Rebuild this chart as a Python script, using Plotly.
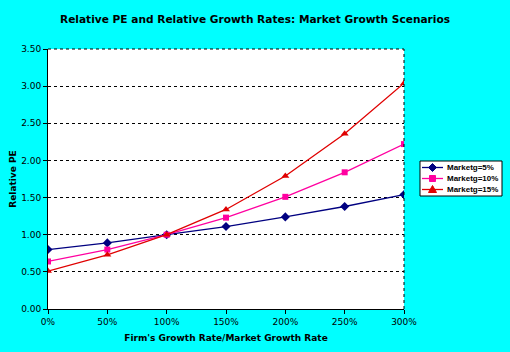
import plotly.graph_objects as go

growth_ratio = [0, 50, 100, 150, 200, 250, 300]
x_labels = ["0%", "50%", "100%", "150%", "200%", "250%", "300%"]
pe_5 = [0.80, 0.89, 1.00, 1.11, 1.24, 1.38, 1.54]
pe_10 = [0.64, 0.80, 1.00, 1.23, 1.51, 1.84, 2.22]
pe_15 = [0.51, 0.73, 1.00, 1.34, 1.79, 2.36, 3.04]
names = ["Marketg=5%", "Marketg=10%", "Marketg=15%"]
y_ticks = [0, 0.5, 1.0, 1.5, 2.0, 2.5, 3.0, 3.5]

font = "DejaVu Sans, Arial, sans-serif"
lfont = "Liberation Sans, Arial, sans-serif"
W, H = 510, 352
ML, MR, MT, MB = 48, 106, 49, 43
PW, PH = W - ML - MR, H - MT - MB


def px_x(x):
    return (x - ML) / PW


def px_y(y):
    return (H - MB - y) / PH


fig = go.Figure()
styles = [("#000080", "diamond", 7), ("#FF00A0", "square", 6), ("#E00000", "triangle-up", 7)]
marker_paths = {
    "diamond": "M0,4 L4,0 L0,-4 L-4,0 Z",
    "square": "M-3,-3 L3,-3 L3,3 L-3,3 Z",
    "triangle-up": "M-4,-3 L4,-3 L0,4 Z",
}
for ys, nm, (c, sym, sz) in zip([pe_5, pe_10, pe_15], names, styles):
    fig.add_trace(go.Scatter(x=growth_ratio, y=ys, name=nm, mode="lines+markers",
                             line=dict(color=c, width=1.3),
                             marker=dict(symbol=sym, size=sz, color=c),
                             showlegend=False))

# manual legend box (compact, like the original)
fig.add_shape(type="rect", xref="paper", yref="paper",
              x0=px_x(420), x1=px_x(502), y0=px_y(196), y1=px_y(161),
              fillcolor="white", line=dict(color="black", width=1), layer="above")
for i, (nm, (c, sym, sz)) in enumerate(zip(names, styles)):
    yy = px_y(167.5 + i * 11)
    fig.add_shape(type="line", xref="paper", yref="paper",
                  x0=px_x(422), x1=px_x(443), y0=yy, y1=yy,
                  line=dict(color=c, width=1.3), layer="above")
    fig.add_shape(type="path", xref="paper", yref="paper",
                  xsizemode="pixel", ysizemode="pixel",
                  xanchor=px_x(432.5), yanchor=yy,
                  path=marker_paths[sym], fillcolor=c, line=dict(color=c, width=1),
                  layer="above")
    fig.add_annotation(x=px_x(445), y=yy, xref="paper", yref="paper",
                       xanchor="left", yanchor="middle", showarrow=False,
                       text="<b>" + nm + "</b>",
                       font=dict(family=lfont, size=8, color="black"))

fig.update_layout(
    width=W, height=H,
    margin=dict(l=ML, r=MR, t=MT, b=MB, autoexpand=False),
    paper_bgcolor="#00FFFF", plot_bgcolor="white",
    title=dict(text="<b>Relative PE and Relative Growth Rates: Market Growth Scenarios</b>",
               x=0.5, xanchor="center", y=0.946, yanchor="middle",
               font=dict(family=font, size=10.6, color="black")),
    font=dict(family=font, size=9, color="black"),
    showlegend=False,
    xaxis=dict(range=[0, 300], tickvals=growth_ratio, ticktext=x_labels, automargin=False,
               showgrid=False, zeroline=False, showline=True, linecolor="black", linewidth=1,
               ticks="outside", ticklen=4, tickcolor="black",
               tickfont=dict(family=font, size=9),
               title=dict(text="<b>Firm's Growth Rate/Market Growth Rate</b>", standoff=8,
                          font=dict(family=font, size=9))),
    yaxis=dict(range=[0, 3.5], tickvals=y_ticks, tickformat=".2f", automargin=False,
               showgrid=True, gridcolor="black", griddash="3px,3px", gridwidth=1,
               zeroline=False, showline=True, linecolor="black", linewidth=1,
               ticks="outside", ticklen=4, tickcolor="black",
               tickfont=dict(family=font, size=9),
               title=dict(text="<b>Relative PE</b>", standoff=3,
                          font=dict(family=font, size=9))),
)
fig.add_shape(type="line", xref="paper", yref="paper", x0=0, x1=1, y0=1, y1=1,
              line=dict(color="black", width=1, dash="dot"))
fig.add_shape(type="line", xref="paper", yref="paper", x0=1, x1=1, y0=0, y1=1,
              line=dict(color="black", width=1, dash="dot"))
fig.write_html("out.html")
